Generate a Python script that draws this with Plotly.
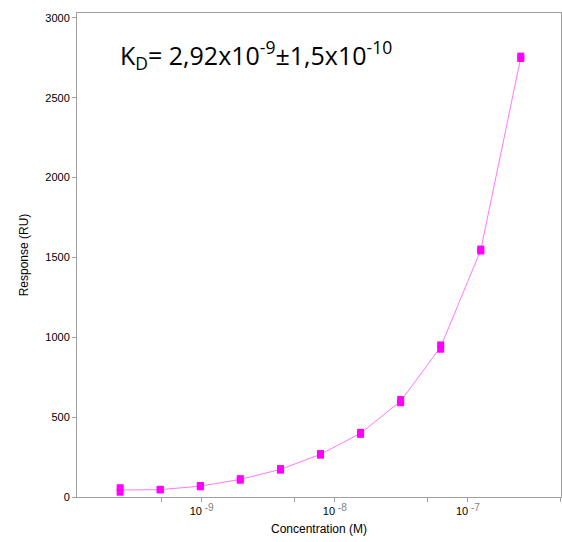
import plotly.graph_objects as go

# Two-fold dilution series (M) and duplicate SPR responses (RU)
concentration = [2.44e-10, 4.88e-10, 9.77e-10, 1.95e-9, 3.91e-9, 7.81e-9,
                 1.5625e-8, 3.125e-8, 6.25e-8, 1.25e-7, 2.5e-7]
response_rep1 = [30, 44, 64, 105, 168, 262, 392, 590, 925, 1540, 2745]
response_rep2 = [58, 48, 72, 115, 178, 272, 405, 610, 952, 1552, 2760]
response_mean = [(a + b) / 2 for a, b in zip(response_rep1, response_rep2)]

x_tick_vals = [1e-9, 1e-8, 1e-7]
x_tick_text = ["10<sup><span style='color:#808080;font-size:10px'> -9</span></sup>",
               "10<sup><span style='color:#808080;font-size:10px'> -8</span></sup>",
               "10<sup><span style='color:#808080;font-size:10px'> -7</span></sup>"]
x_minor_vals = [5e-10, 5e-9, 5e-8, 5e-7]
y_tick_vals = [0, 500, 1000, 1500, 2000, 2500, 3000]

MAGENTA = "#ff00ff"
LINE = "#ff77ff"
AXIS = "#a0a0a0"

fig = go.Figure()
fig.add_trace(go.Scatter(
    x=concentration, y=response_mean, mode="lines",
    line=dict(color=LINE, width=1), hoverinfo="skip", showlegend=False))
for reps in (response_rep1, response_rep2):
    fig.add_trace(go.Scatter(
        x=concentration, y=reps, mode="markers",
        marker=dict(symbol="square", size=7, color=MAGENTA, line=dict(width=0)),
        showlegend=False))

fig.add_annotation(
    xref="paper", yref="paper", x=0.084, y=0.913, xanchor="left", yanchor="middle",
    text="K<sub>D</sub>= 2,92x10<sup>-9</sup>±1,5x10<sup>-10</sup>",
    showarrow=False, font=dict(family="Open Sans", size=25, color="black"))

fig.update_layout(
    width=562, height=542,
    margin=dict(l=77, r=1, t=13, b=45),
    paper_bgcolor="white", plot_bgcolor="white",
    font=dict(family="Liberation Sans, Arial", size=11, color="black"),
    xaxis=dict(
        type="log", range=[-9.937, -6.30],
        tickmode="array", tickvals=x_tick_vals, ticktext=x_tick_text,
        ticks="outside", ticklen=4, tickcolor=AXIS, tickwidth=1,
        minor=dict(tickmode="array", tickvals=x_minor_vals, ticks="outside",
                   ticklen=4, tickcolor=AXIS, tickwidth=1, showgrid=False),
        showline=True, linecolor=AXIS, linewidth=1, mirror=True,
        showgrid=False, zeroline=False,
        tickfont=dict(size=11),
        title=dict(text="Concentration (M)", font=dict(size=12), standoff=8)),
    yaxis=dict(
        range=[0, 3030], tickvals=y_tick_vals,
        ticks="outside", ticklen=4, tickcolor=AXIS, tickwidth=1,
        showline=True, linecolor=AXIS, linewidth=1, mirror=True,
        showgrid=False, zeroline=False,
        tickfont=dict(size=11),
        title=dict(text="Response (RU)", font=dict(size=12), standoff=14)),
)

fig.write_html("out.html")
